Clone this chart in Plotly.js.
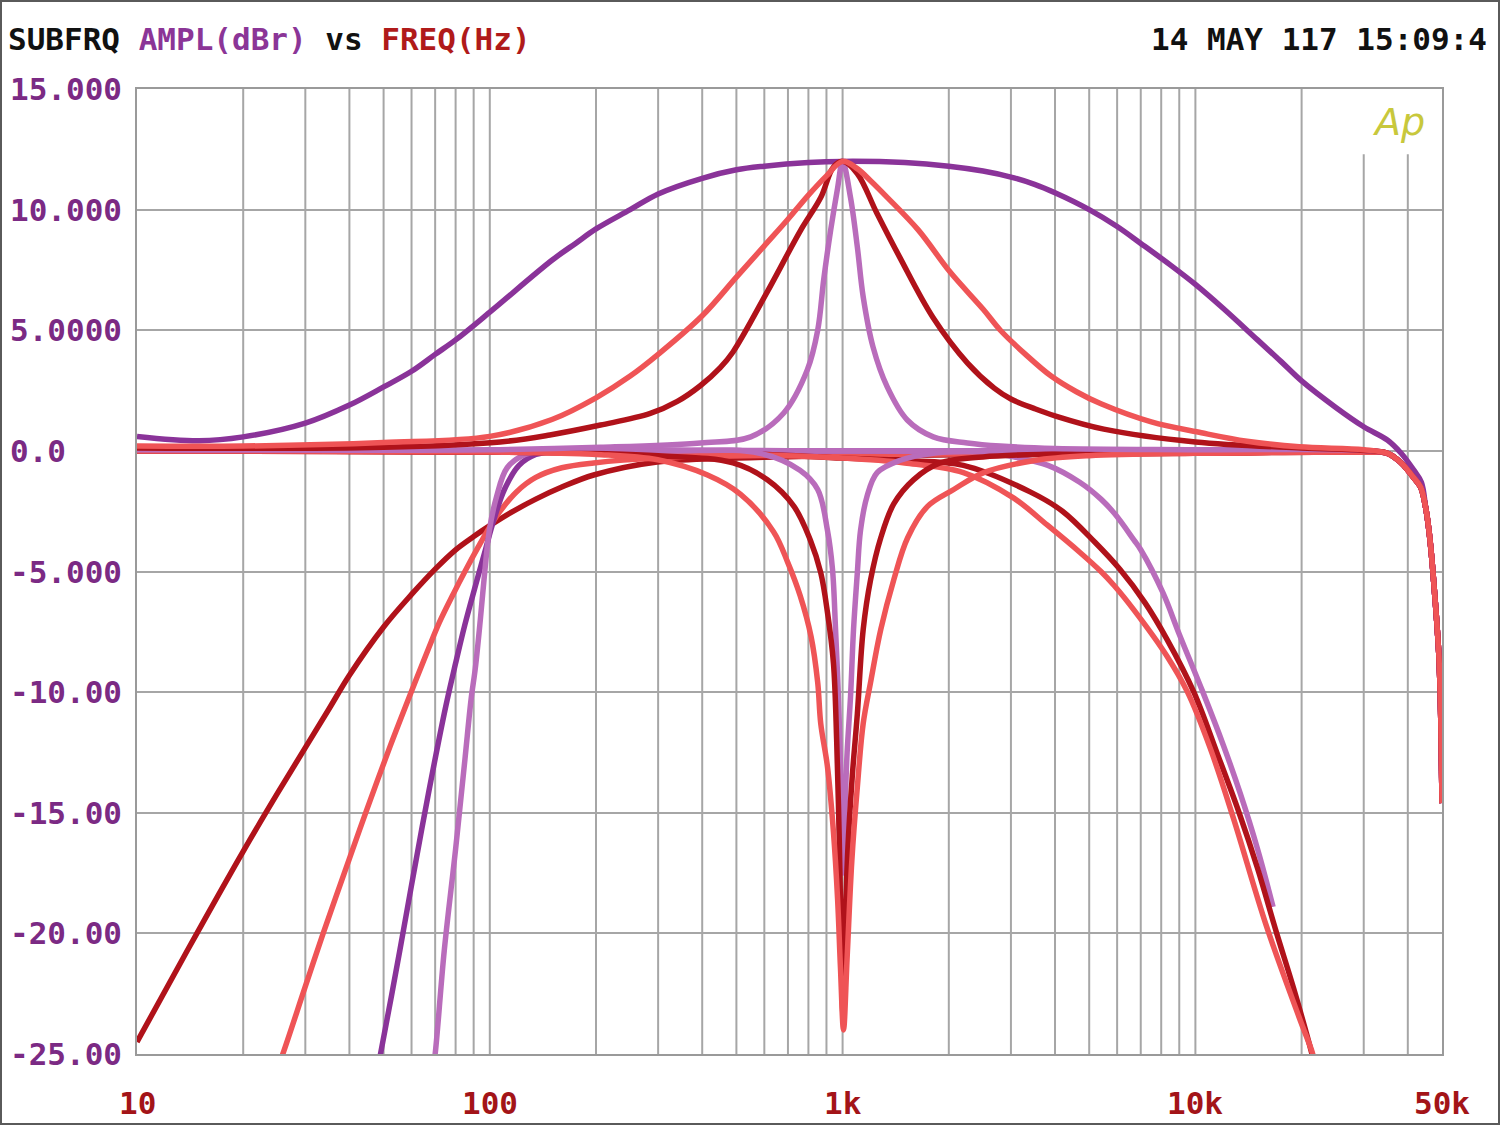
<!DOCTYPE html>
<html><head><meta charset="utf-8">
<script src="https://cdn.plot.ly/plotly-3.0.1.min.js"></script>
<style>
html,body{margin:0;padding:0;background:#fff;}
#chart{width:1500px;height:1125px;}
#frame{position:absolute;left:0;top:0;width:1500px;height:1125px;box-sizing:border-box;border:2px solid #5a5a5a;pointer-events:none;}
</style>
</head><body>
<div id="chart"></div><div id="frame"></div>
<script>
// ---------- tick labels ----------
const yTickVals = [15, 10, 5, 0, -5, -10, -15, -20, -25];
const yTickText = ['15.000', '10.000', '5.0000', '0.0', '-5.000', '-10.00', '-15.00', '-20.00', '-25.00'];
const xTickVals = [10, 100, 1000, 10000, 50000];
const xTickText = ['10', '100', '1k', '10k', '50k'];
const gridFreqs = [20,30,40,50,60,70,80,90,100,200,300,400,500,600,700,800,900,1000,2000,3000,4000,5000,6000,7000,8000,9000,10000,20000,30000,40000];
const gridShortFreqs = [30000, 40000];   // lines interrupted by the Ap logo
const gridShortTop = 12.3;

// ---------- shared high-frequency roll-off ----------
const rolloffFreq = [35000, 38000, 40000, 41500, 43500, 45000, 46000, 47000, 48000, 49000, 49500, 50000];
const rolloffDb   = [-0.1, -0.45, -0.8, -1.1, -1.5, -2.4, -3.4, -4.8, -6.5, -8.5, -10.5, -14.6];

// ---------- peaking (boost) curves ----------
const peakWideFreq = [10,15,20,30,40,50,60,70,80,100,150,175,200,250,300,400,500,600,800,1000,1500,2000,2500,3000,3500,4000,5000,6000,7000,8500,10000,12000,15000,17500,20000,25000,30000,35000,38300,41600,43700,45000,46000,47000,48000,49000,49500,50000];
const peakWideDb   = [0.6,0.42,0.58,1.15,1.9,2.65,3.3,4.0,4.6,5.75,7.9,8.6,9.2,10.0,10.65,11.3,11.65,11.8,11.95,12.0,11.95,11.8,11.6,11.35,11.05,10.7,10.0,9.3,8.6,7.7,6.9,5.9,4.6,3.7,2.9,1.8,1.0,0.45,-0.1,-0.8,-1.3,-2.4,-3.4,-4.8,-6.5,-8.5,-10.5,-14.6];

const peakMidFreq = [10,20,50,100,150,200,250,300,400,500,600,700,800,900,1000,1100,1200,1340,1640,2020,2510,2800,3300,3900,4600,5400,7500,10400,14000,19700,30000];
const peakMidDb   = [0.2,0.2,0.35,0.6,1.3,2.2,3.1,4.0,5.6,7.2,8.5,9.6,10.6,11.4,12.0,11.7,11.2,10.5,9.15,7.4,5.85,5.0,4.0,3.1,2.45,1.95,1.2,0.75,0.4,0.17,0.05];

const peakNarrowFreq = [10,50,107,148,206,285,340,395,450,489,612,761,867,942,1000,1100,1250,1450,1800,2260,2690,3000,3500,4000,5500,10000,20000,30000];
const peakNarrowDb   = [0.12,0.15,0.37,0.66,1.07,1.55,2.05,2.7,3.45,4.1,6.6,9.15,10.5,11.77,12.0,11.5,9.86,8.04,5.55,3.64,2.6,2.15,1.75,1.45,0.9,0.37,0.12,0.02];

const peakSharpFreq = [10,100,206,395,549,681,794,850,884,925,968,1000,1053,1101,1144,1220,1338,1525,1807,2258,2800,4000,10000,30000];
const peakSharpDb   = [0.05,0.05,0.15,0.33,0.58,1.57,3.35,5.0,7.1,9.15,10.9,12.0,10.5,8.45,6.38,4.3,2.65,1.28,0.58,0.33,0.2,0.1,0.05,0.02];

// ---------- notch (cut) curves ----------
const notchWideFreq = [10,100,200,299,414,514,637,698,758,814,850,867,906,942,968,986,1006,1030,1062,1100,1144,1200,1283,1396,1529,1741,2065,2512,3500,5000,10000,30000];
const notchWideDb   = [0.0,-0.05,-0.15,-0.37,-1.0,-1.8,-3.35,-4.6,-6.0,-7.7,-9.6,-11.3,-13.1,-15.8,-18.6,-21.4,-24.0,-21.0,-17.0,-14.0,-11.3,-9.6,-7.4,-5.35,-3.6,-2.3,-1.6,-0.9,-0.4,-0.2,-0.1,-0.05];

const notchMidFreq = [10,100,300,489,612,728,810,867,906,942,962,978,990,1002,1015,1035,1065,1101,1144,1200,1283,1396,1588,1889,2500,5000,10000,30000];
const notchMidDb   = [0.0,-0.05,-0.2,-0.5,-1.2,-2.3,-3.7,-5.05,-6.7,-8.8,-12.0,-16.0,-20.0,-23.3,-20.0,-16.5,-13.5,-10.9,-7.4,-5.35,-3.6,-2.2,-1.2,-0.5,-0.25,-0.1,-0.05,-0.02];

const notchSharpFreq = [10,300,582,757,850,906,936,955,973,986,1003,1015,1030,1053,1074,1101,1124,1172,1253,1450,1809,3000,10000,30000];
const notchSharpDb   = [0.0,0.0,-0.1,-0.8,-1.6,-3.3,-4.9,-7.4,-10.2,-13.0,-17.5,-15.0,-12.5,-10.2,-7.4,-5.05,-3.3,-1.9,-0.9,-0.4,-0.1,0.0,0.0,0.0];

// ---------- high-pass curves ----------
const hpfGentleFreq = [10,13.9,20,25,30,35,40,50,60,70,80,90,100,115,135,160,197,298,500,1000,3000,10000,30000];
const hpfGentleDb   = [-24.5,-20.7,-16.6,-14.2,-12.3,-10.7,-9.3,-7.3,-5.95,-4.9,-4.1,-3.55,-3.1,-2.55,-2.0,-1.5,-1.0,-0.46,-0.3,-0.2,-0.15,-0.1,-0.05];

const hpfMidFreq = [25,25.9,30,33.7,40,45,52,58.4,67,72,79,85,93,100,107,119,135,160,197,300,1000,10000,30000];
const hpfMidDb   = [-25.6,-25.0,-22.2,-20.0,-16.9,-14.8,-12.3,-10.4,-8.2,-7.1,-5.9,-5.0,-3.95,-3.15,-2.5,-1.7,-1.1,-0.7,-0.5,-0.3,-0.15,-0.1,-0.05];

const hpfSteepFreq = [48,49,55.6,60,67,75,80,85,91,97.6,102,110,121,135,160,200,1000,10000,30000];
const hpfSteepDb   = [-25.6,-25.0,-20.7,-18.0,-14.2,-10.6,-8.8,-7.2,-5.6,-4.0,-3.0,-1.6,-0.6,-0.15,0.0,0.0,0.0,0.0,0.0];

const hpfSharpFreq = [69,70,74.3,80,85,88.5,91,94,96.5,99.7,104.5,112,126,150,1000,10000,30000];
const hpfSharpDb   = [-25.6,-25.0,-20.7,-16.5,-12.8,-10.3,-9.0,-7.0,-5.2,-3.3,-1.9,-0.7,-0.15,0.0,0.0,0.0,0.0];

// ---------- low-pass curves ----------
const lpfSharpFreq = [10,100,1000,2000,2500,3050,3820,4700,5400,5900,6700,7000,8100,9000,10500,12000,13400,15000,16600];
const lpfSharpDb   = [0,0,0,-0.02,-0.05,-0.25,-0.6,-1.3,-2.0,-2.6,-3.7,-4.1,-5.9,-7.6,-10.0,-12.2,-14.2,-16.5,-18.9];

const lpfMidFreq = [10,100,500,1000,1500,2200,3400,4200,5200,6100,7200,8300,9900,11500,13300,15000,17000,19000,21400,21800];
const lpfMidDb   = [0,-0.05,-0.1,-0.3,-0.4,-0.6,-1.7,-2.5,-3.8,-4.9,-6.3,-7.8,-10.0,-12.5,-15.0,-17.3,-20.0,-22.3,-25.0,-25.5];

const lpfSoftFreq = [10,100,500,1000,1500,2200,3050,3800,4700,5400,5900,6700,8300,9500,11000,12800,15900,19700,21500,21800];
const lpfSoftDb   = [0,-0.05,-0.15,-0.3,-0.5,-0.9,-1.95,-3.07,-4.2,-5.0,-5.6,-6.6,-8.5,-10.0,-12.3,-15.2,-19.7,-23.5,-25.0,-25.5];

// ---------- colours ----------
const C_PURPLE = '#8a3399';
const C_ORCHID = '#b96cbb';
const C_DARKRED = '#b0121a';
const C_CORAL = '#ef5456';

// ---------- build ----------
const traces = [];
const gx = [], gy = [];
gridFreqs.forEach(f => {
  const top = gridShortFreqs.includes(f) ? gridShortTop : 15;
  gx.push(f, f, null); gy.push(-25, top, null);
});
traces.push({x: gx, y: gy, mode: 'lines', line: {color: '#a6a6a6', width: 2}, hoverinfo: 'skip'});

function curve(fx, dy, color, withRoll) {
  const x = withRoll ? fx.concat(rolloffFreq) : fx;
  const y = withRoll ? dy.concat(rolloffDb) : dy;
  traces.push({x: x, y: y, mode: 'lines', line: {color: color, width: 5.5, shape: 'spline', smoothing: 1.0}, hoverinfo: 'skip'});
}
curve(hpfGentleFreq, hpfGentleDb, C_DARKRED, true);
curve(hpfMidFreq, hpfMidDb, C_CORAL, true);
curve(hpfSteepFreq, hpfSteepDb, C_PURPLE, true);
curve(hpfSharpFreq, hpfSharpDb, C_ORCHID, true);
curve(lpfSharpFreq, lpfSharpDb, C_ORCHID, false);
curve(lpfMidFreq, lpfMidDb, C_DARKRED, false);
curve(lpfSoftFreq, lpfSoftDb, C_CORAL, false);
curve(notchSharpFreq, notchSharpDb, C_ORCHID, true);
curve(notchMidFreq, notchMidDb, C_DARKRED, true);
curve(notchWideFreq, notchWideDb, C_CORAL, true);
curve(peakWideFreq, peakWideDb, C_PURPLE, false);
curve(peakSharpFreq, peakSharpDb, C_ORCHID, true);
curve(peakNarrowFreq, peakNarrowDb, C_DARKRED, true);
curve(peakMidFreq, peakMidDb, C_CORAL, true);

const FONT = 'DejaVu Sans Mono, monospace';
const annotations = [];
yTickVals.forEach((v, i) => {
  annotations.push({xref: 'paper', yref: 'y', x: (8 - 137) / 1305, y: v, xanchor: 'left', yanchor: 'middle',
    text: yTickText[i], showarrow: false, font: {family: FONT, size: 31, color: '#7b2a84', weight: 'bold'}});
});
xTickVals.forEach((v, i) => {
  annotations.push({xref: 'x', yref: 'paper', x: Math.log10(v), y: (1054 - 1103) / 965, xanchor: 'center', yanchor: 'middle',
    text: xTickText[i], showarrow: false, font: {family: FONT, size: 31, color: '#a31418', weight: 'bold'}});
});
annotations.push({xref: 'paper', yref: 'paper', x: (1489 - 137) / 1305, y: (1054 - 39) / 965, xanchor: 'right', yanchor: 'middle',
  text: '14 MAY 117 15:09:4', showarrow: false, font: {family: FONT, size: 31, color: '#111', weight: 'bold'}});
annotations.push({xref: 'paper', yref: 'paper', x: (1398 - 137) / 1305, y: (1054 - 122) / 965, xanchor: 'center', yanchor: 'middle',
  text: 'Ap', showarrow: false, font: {family: 'DejaVu Sans, sans-serif', size: 38, color: '#c8c83c', style: 'italic'}});

const layout = {
  width: 1500, height: 1125,
  margin: {l: 137, r: 58, t: 89, b: 71},
  paper_bgcolor: '#ffffff', plot_bgcolor: '#ffffff',
  showlegend: false,
  title: {
    text: 'SUBFRQ <span style="color:#8b3597">AMPL(dBr)</span> vs <span style="color:#b01a1a">FREQ(Hz)</span>',
    x: 8 / 1500, xref: 'container', xanchor: 'left',
    y: 1 - 39 / 1125, yref: 'container', yanchor: 'middle',
    font: {family: FONT, size: 31, color: '#111', weight: 'bold'}
  },
  xaxis: {type: 'log', range: [1, Math.log10(50000)], showgrid: false, showticklabels: false, ticks: '',
    zeroline: false, showline: true, mirror: true, linecolor: '#9a9a9a', linewidth: 2},
  yaxis: {range: [-25, 15], tickvals: yTickVals, showticklabels: false, ticks: '', showgrid: true,
    gridcolor: '#a6a6a6', gridwidth: 2, zeroline: false, showline: true, mirror: true, linecolor: '#9a9a9a', linewidth: 2},
  annotations: annotations
};
Plotly.newPlot('chart', traces, layout, {staticPlot: true, displayModeBar: false});
</script>
</body></html>
